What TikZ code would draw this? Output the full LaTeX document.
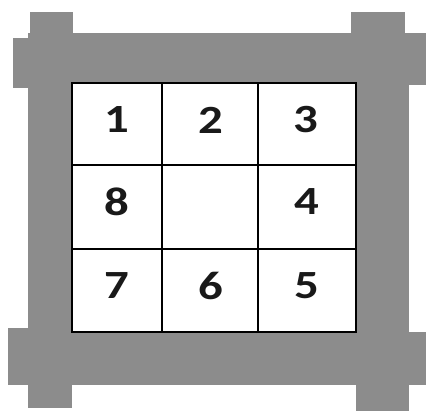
\documentclass[tikz,border=0pt]{standalone}
\usepackage{fontspec}
\newfontfamily\digitfont{Carlito}
\definecolor{framegray}{RGB}{140,140,140}
\tikzset{
  bar/.style={fill=framegray, draw=none},
  cellline/.style={draw=black, line width=1.4pt},
  digit/.style={font=\digitfont\bfseries\fontsize{40}{40}\selectfont, inner sep=0pt, text=black!90}
}
\newcommand{\wdigit}[1]{\scalebox{1.22}[1]{#1}}
\begin{document}
\begin{tikzpicture}[x=1pt, y=-1pt]
\useasboundingbox (0,0) rectangle (426,411);
\fill[white] (0,0) rectangle (426,411);
% frame bars
\fill[bar] (28,33) rectangle (409,84);   % top bar
\fill[bar] (13,38) rectangle (32,88);    % top-left protrusion
\fill[bar] (405,33) rectangle (426,85);  % top-right protrusion
\fill[bar] (30,12) rectangle (73,33);    % top-left notch
\fill[bar] (351,12) rectangle (405,33);  % top-right notch
\fill[bar] (28,33) rectangle (72,408);   % left bar
\fill[bar] (356,33) rectangle (409,411); % right bar
\fill[bar] (8,332) rectangle (426,385);  % bottom bar
\fill[bar] (8,328) rectangle (28,380);   % bottom-left protrusion
% grid
\coordinate (g1) at (72,83);
\coordinate (g2) at (356,332);
\fill[white] (g1) rectangle (g2);
\draw[cellline] (162,83) -- (162,332);
\draw[cellline] (258,83) -- (258,332);
\draw[cellline] (72,165) -- (356,165);
\draw[cellline] (72,249) -- (356,249);
\draw[draw=black, line width=1.8pt] (g1) rectangle (g2);
% digits
\node[digit] (n1) at (117,120) {\wdigit{1}};
\node[digit] (n2) at (211,120) {\wdigit{2}};
\node[digit] (n3) at (306,120) {\wdigit{3}};
\node[digit] (n8) at (117,202) {\wdigit{8}};
\node[digit] (n4) at (307,202) {\wdigit{4}};
\node[digit] (n7) at (117,286) {\wdigit{7}};
\node[digit] (n6) at (211,286) {\wdigit{6}};
\node[digit] (n5) at (307,286) {\wdigit{5}};
\end{tikzpicture}
\end{document}
